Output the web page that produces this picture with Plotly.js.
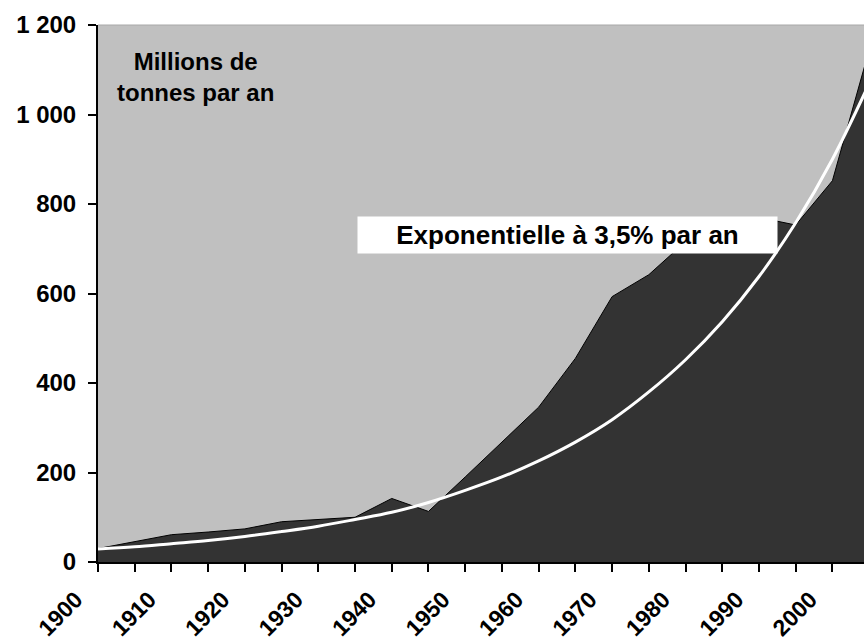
<!DOCTYPE html>
<html>
<head>
<meta charset="utf-8">
<script src="https://cdn.plot.ly/plotly-3.0.1.min.js"></script>
<style>html,body{margin:0;padding:0;background:#fff;}</style>
</head>
<body>
<div id="chart" style="width:864px;height:641px;"></div>
<script>
// Years (5-year steps)
const years = [1900,1905,1910,1915,1920,1925,1930,1935,1940,1945,1950,1955,1960,1965,1970,1975,1980,1985,1990,1995,2000,2005];
// Production, millions de tonnes par an (dark area)
const production = [30,46,61,67,74,90,95,100,142,113,190,269,346,455,593,642,716,720,770,753,852,1144];
// Exponential curve at 3.5% per year (white line)
const exponential = [29,34,41,48,57,68,80,95,111,133,160,190,226,268,318,380,452,537,638,758,900,1069];

const xTickVals = [1900,1910,1920,1930,1940,1950,1960,1970,1980,1990,2000];
const xTickText = ['1900','1910','1920','1930','1940','1950','1960','1970','1980','1990','2000'];
const yTickVals = [0,200,400,600,800,1000,1200];
const yTickText = ['0','200','400','600','800','1 000','1 200'];

const FONT = 'Liberation Sans, Arial, sans-serif';

const traces = [
  {
    x: years, y: production, type: 'scatter', mode: 'lines',
    fill: 'tozeroy', fillcolor: '#333333',
    line: {color: '#000000', width: 1},
    hoverinfo: 'skip', showlegend: false
  },
  {
    x: years, y: exponential, type: 'scatter', mode: 'lines',
    line: {color: '#ffffff', width: 3, shape: 'spline', smoothing: 1},
    hoverinfo: 'skip', showlegend: false
  }
];

const layout = {
  width: 864, height: 641,
  margin: {l: 98, r: 0, t: 25, b: 79},
  paper_bgcolor: '#ffffff',
  plot_bgcolor: '#c0c0c0',
  font: {family: FONT, color: '#000', size: 24},
  showlegend: false,
  xaxis: {
    range: [1900, 2004.3],
    tickmode: 'array', tickvals: xTickVals, ticktext: xTickText,
    tickangle: -45,
    ticks: 'outside', ticklen: 8, tickwidth: 2, tickcolor: '#000',
    ticklabelstandoff: 5, ticklabelshift: -22,
    minor: {dtick: 5, tick0: 1900, ticks: 'outside', ticklen: 8, tickwidth: 2, tickcolor: '#000', showgrid: false},
    showline: true, linecolor: '#000', linewidth: 2,
    showgrid: false, zeroline: false,
    tickfont: {family: FONT, size: 23, color: '#000', weight: 'bold'}
  },
  yaxis: {
    range: [0, 1200],
    tickmode: 'array', tickvals: yTickVals, ticktext: yTickText,
    ticks: 'outside', ticklen: 8, tickwidth: 2, tickcolor: '#000',
    ticklabelstandoff: 7,
    showline: true, linecolor: '#000', linewidth: 2,
    showgrid: false, zeroline: false,
    tickfont: {family: FONT, size: 24, color: '#000', weight: 'bold'}
  },
  shapes: [
    {type: 'line', xref: 'paper', yref: 'paper', x0: 0, x1: 1, y0: 1, y1: 1,
     line: {color: '#a8a8a8', width: 1}}
  ],
  annotations: [
    {
      x: 1913.3, y: 1084, xref: 'x', yref: 'y',
      text: '<b>Millions de<br>tonnes par an</b>',
      showarrow: false, align: 'center',
      font: {family: FONT, size: 24, color: '#000'}
    },
    {
      x: 1963.9, y: 731, xref: 'x', yref: 'y',
      text: '<b>Exponentielle à 3,5% par an</b>',
      showarrow: false, align: 'center',
      width: 417, height: 34,
      bgcolor: '#ffffff', borderpad: 1,
      font: {family: FONT, size: 26, color: '#000'}
    }
  ]
};

Plotly.newPlot('chart', traces, layout, {staticPlot: true, displayModeBar: false});
</script>
</body>
</html>
